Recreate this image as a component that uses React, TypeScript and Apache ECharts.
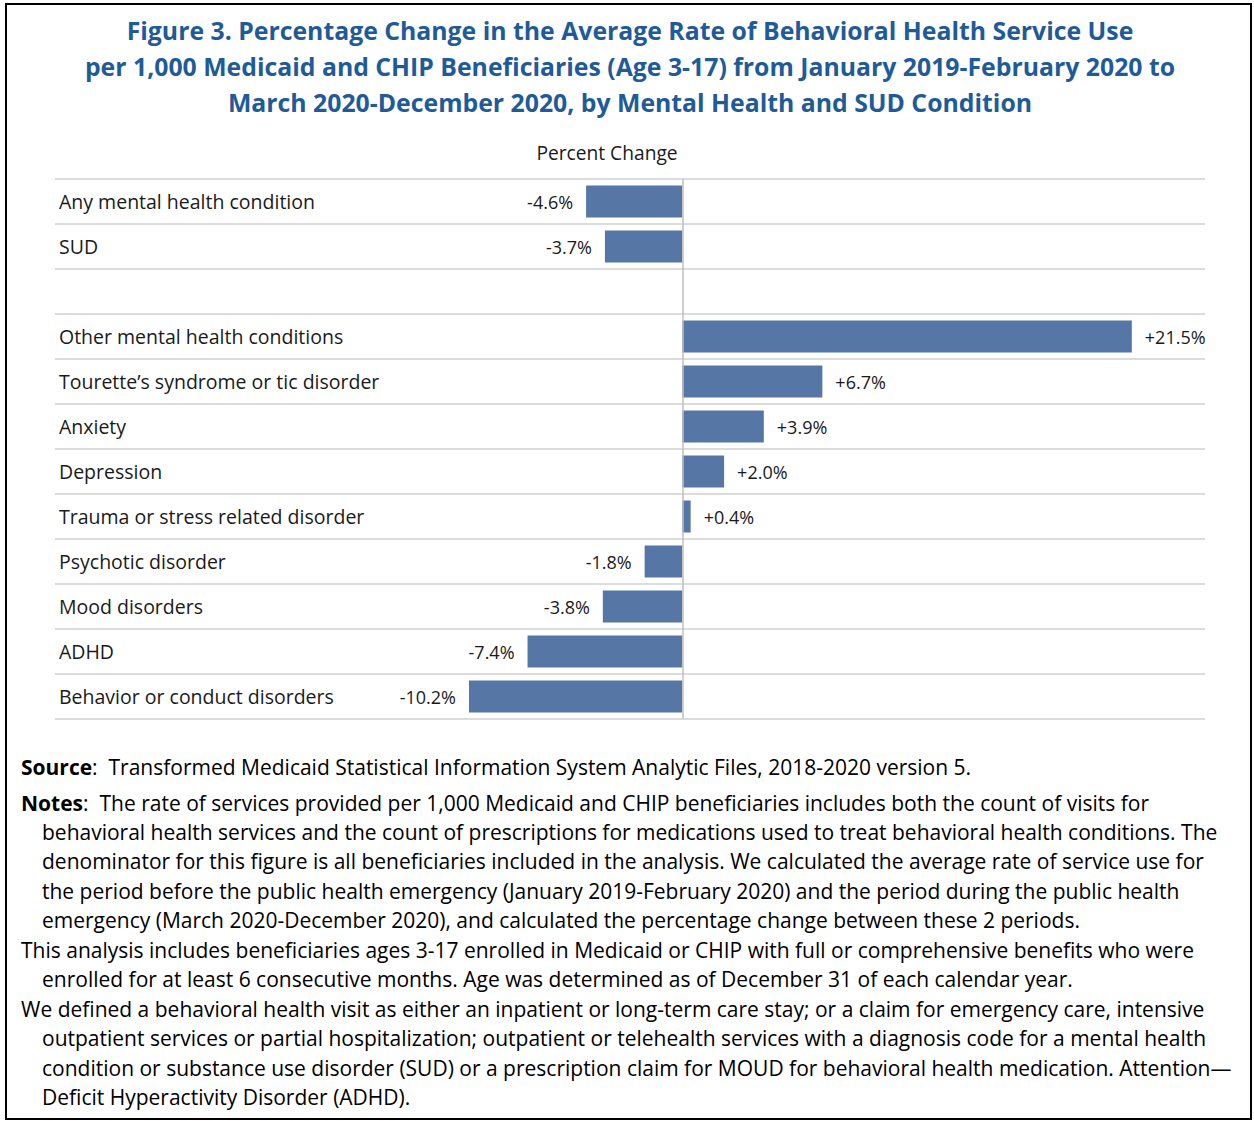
import React, { useEffect, useRef } from "react";
import * as echarts from "echarts";

const categories = [
  "Any mental health condition",
  "SUD",
  "",
  "Other mental health conditions",
  "Tourette\u2019s syndrome or tic disorder",
  "Anxiety",
  "Depression",
  "Trauma or stress related disorder",
  "Psychotic disorder",
  "Mood disorders",
  "ADHD",
  "Behavior or conduct disorders",
];
const percentChange: (number | null)[] = [-4.6, -3.7, null, 21.5, 6.7, 3.9, 2.0, 0.4, -1.8, -3.8, -7.4, -10.2];

const titleLines = [
  "Figure 3. Percentage Change in the Average Rate of Behavioral Health Service Use",
  "per 1,000 Medicaid and CHIP Beneficiaries (Age 3-17) from January 2019-February 2020 to",
  "March 2020-December 2020, by Mental Health and SUD Condition",
];

const noteLines: { text: string; indent: boolean }[] = [
  { text: "{b|Source}:  Transformed Medicaid Statistical Information System Analytic Files, 2018-2020 version 5.", indent: false },
  { text: "{b|Notes}:  The rate of services provided per 1,000 Medicaid and CHIP beneficiaries includes both the count of visits for", indent: false },
  { text: "behavioral health services and the count of prescriptions for medications used to treat behavioral health conditions. The", indent: true },
  { text: "denominator for this figure is all beneficiaries included in the analysis. We calculated the average rate of service use for", indent: true },
  { text: "the period before the public health emergency (January 2019-February 2020) and the period during the public health", indent: true },
  { text: "emergency (March 2020-December 2020), and calculated the percentage change between these 2 periods.", indent: true },
  { text: "This analysis includes beneficiaries ages 3-17 enrolled in Medicaid or CHIP with full or comprehensive benefits who were", indent: false },
  { text: "enrolled for at least 6 consecutive months. Age was determined as of December 31 of each calendar year.", indent: true },
  { text: "We defined a behavioral health visit as either an inpatient or long-term care stay; or a claim for emergency care, intensive", indent: false },
  { text: "outpatient services or partial hospitalization; outpatient or telehealth services with a diagnosis code for a mental health", indent: true },
  { text: "condition or substance use disorder (SUD) or a prescription claim for MOUD for behavioral health medication. Attention\u2014", indent: true },
  { text: "Deficit Hyperactivity Disorder (ADHD).", indent: true },
];
const noteYs = [767, 803, 832, 861, 891, 920, 950, 979, 1009, 1038, 1068, 1097];

const FONT = "Open Sans";

export default function App() {
  const ref = useRef<HTMLDivElement>(null);
  useEffect(() => {
    if (!ref.current) return;
    const chart = echarts.init(ref.current, null, { renderer: "svg" });
    const graphics: any[] = [
      {
        type: "rect",
        shape: { x: 6, y: 4, width: 1245, height: 1115 },
        style: { fill: "none", stroke: "#000", lineWidth: 2 },
        silent: true,
      },
      ...titleLines.map((t, i) => ({
        type: "text",
        x: 630,
        y: 30 + i * 36,
        style: {
          text: t,
          fontFamily: FONT,
          fontWeight: "bold",
          fontSize: 24.8,
          fill: "#1f5b99",
          textAlign: "center",
          textVerticalAlign: "middle",
        },
      })),
      {
        type: "text",
        x: 607,
        y: 152,
        style: {
          text: "Percent Change",
          fontFamily: FONT,
          fontSize: 19.2,
          fill: "#1a1a1a",
          textAlign: "center",
          textVerticalAlign: "middle",
        },
      },
      ...noteLines.map((l, i) => ({
        type: "text",
        x: l.indent ? 42 : 21,
        y: noteYs[i],
        style: {
          text: l.text,
          fontFamily: FONT,
          fontSize: 21,
          fill: "#000",
          textAlign: "left",
          textVerticalAlign: "middle",
          rich: {
            b: { fontFamily: FONT, fontSize: 21, fontWeight: "bold", fill: "#000" },
          },
        },
      })),
    ];

    chart.setOption({
      animation: false,
      grid: { left: 55, right: 49, top: 179, bottom: 402, containLabel: false },
      xAxis: {
        type: "value",
        min: -30,
        max: 25,
        show: false,
        splitLine: { show: false },
      },
      yAxis: {
        type: "category",
        inverse: true,
        data: categories,
        axisLine: { show: false },
        axisTick: { show: false },
        splitLine: { show: true, interval: 0, lineStyle: { color: "#dcdcdc", width: 2 } },
        axisLabel: {
          interval: 0,
          align: "left",
          margin: -4,
          fontFamily: FONT,
          fontSize: 19.5,
          color: "#1a1a1a",
        },
      },
      series: [
        {
          type: "bar",
          barWidth: 32,
          data: percentChange.map((v) =>
            v == null
              ? "-"
              : { value: v, label: { position: v < 0 ? "left" : "right" } }
          ),
          itemStyle: { color: "#5677a6" },
          label: {
            show: true,
            distance: 13,
            fontFamily: FONT,
            fontSize: 18,
            color: "#1a1a1a",
            formatter: (p: any) => (p.value > 0 ? "+" : "") + Number(p.value).toFixed(1) + "%",
          },
          markLine: {
            silent: true,
            symbol: "none",
            label: { show: false },
            lineStyle: { color: "#bfbfbf", type: "solid", width: 1.5 },
            data: [{ xAxis: 0 }],
          },
        },
      ],
      graphic: graphics,
    });
    return () => chart.dispose();
  }, []);
  return (
    <div
      ref={ref}
      style={{ position: "absolute", left: 0, top: 0, width: 1254, height: 1121, background: "#fff" }}
    />
  );
}
